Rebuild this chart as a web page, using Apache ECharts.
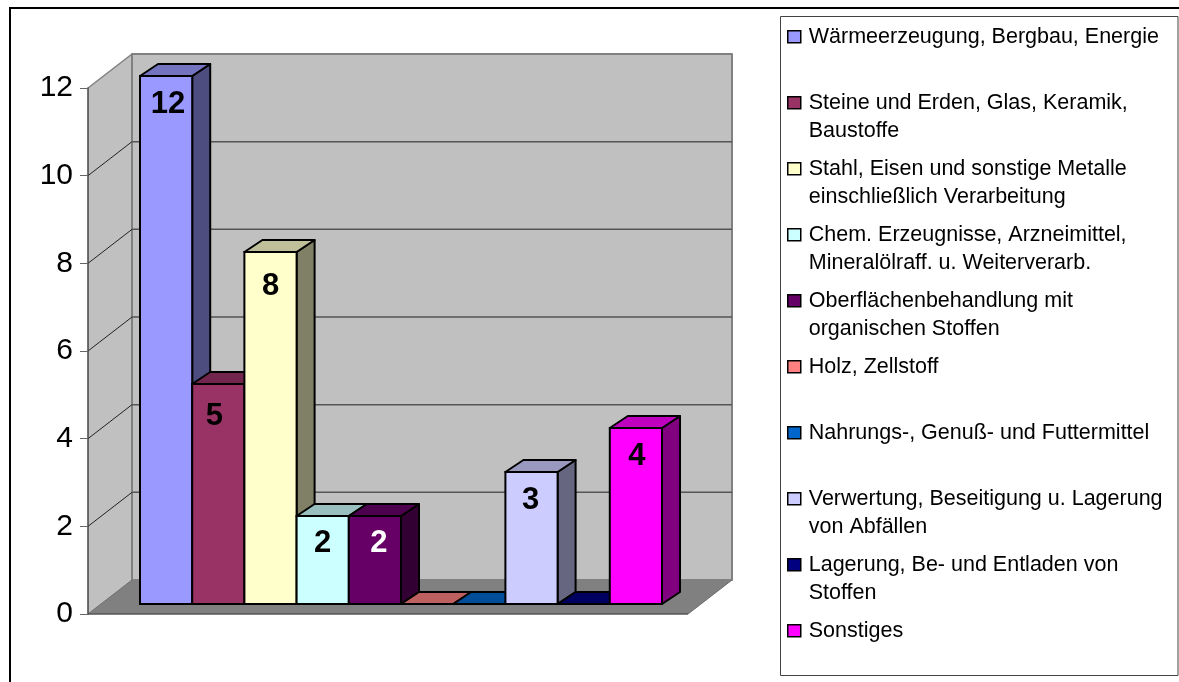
<!DOCTYPE html>
<html>
<head>
<meta charset="utf-8">
<style>html,body{margin:0;padding:0;background:#fff}#c{width:1179px;height:682px}</style>
<script src="https://cdn.jsdelivr.net/npm/echarts@6/dist/echarts.min.js"></script>
</head>
<body>
<div id="c"></div>
<script>
const categories = [
  'Wärmeerzeugung, Bergbau, Energie',
  'Steine und Erden, Glas, Keramik,\nBaustoffe',
  'Stahl, Eisen und sonstige Metalle\neinschließlich Verarbeitung',
  'Chem. Erzeugnisse, Arzneimittel,\nMineralölraff. u. Weiterverarb.',
  'Oberflächenbehandlung mit\norganischen Stoffen',
  'Holz, Zellstoff',
  'Nahrungs-, Genuß- und Futtermittel',
  'Verwertung, Beseitigung u. Lagerung\nvon Abfällen',
  'Lagerung, Be- und Entladen von\nStoffen',
  'Sonstiges'
];
const values = [12, 5, 8, 2, 2, 0, 0, 3, 0, 4];
const colors = ['#9999FF','#993366','#FFFFCC','#CCFFFF','#660066','#FF8080','#0066CC','#CCCCFF','#000080','#FF00FF'];
const labelColors = ['#000','#000','#000','#000','#fff','#000','#000','#000','#000','#000'];
const yTicks = [0, 2, 4, 6, 8, 10, 12];

const FONT = '"Liberation Sans", Arial, sans-serif';
const WALL_DX = 44, WALL_DY = -34;   // depth of the chart box
const BAR_DX = 18, BAR_DY = -12;     // depth of a bar
const LABEL_NUDGE = [[2,-1],[-4,3],[0,5],[0,-2],[4,-2],[0,0],[0,0],[-1,-1],[0,0],[1,-1]];

function shade(hex, k) {
  const n = parseInt(hex.slice(1), 16);
  const c = s => Math.round(((n >> s) & 255) * k);
  return 'rgb(' + c(16) + ',' + c(8) + ',' + c(0) + ')';
}
function poly(points, fill, stroke, lw) {
  return { type: 'polygon', shape: { points }, style: { fill, stroke: stroke || null, lineWidth: lw || 0, lineJoin: 'round' } };
}
function line(a, b, stroke, lw) {
  return { type: 'line', shape: { x1: a[0], y1: a[1], x2: b[0], y2: b[1] }, style: { stroke, lineWidth: lw } };
}

// Chart box: walls, floor and wall gridlines, one data item per axis tick
function renderWall(params, api) {
  const v = api.value(0);
  const a = api.coord([0, v]), b = api.coord([1, v]);
  const back = p => [p[0] + WALL_DX, p[1] + WALL_DY];
  const kids = [];
  if (v === 0) {
    const t = api.coord([0, yTicks[yTicks.length - 1]]);
    kids.push(poly([a, t, back(t), back(a)], '#C0C0C0'));
    const bt = api.coord([1, yTicks[yTicks.length - 1]]);
    kids.push(poly([back(t), back(bt), back(b), back(a)], '#C0C0C0', '#808080', 2));
    kids.push(poly([a, b, back(b), back(a)], '#808080'));
    kids.push(line(a, b, '#555', 1.5));
    kids.push(line(b, back(b), '#6a6a6a', 1));
    kids.push(line(a, back(a), '#6a6a6a', 1));
  } else if (v === yTicks[yTicks.length - 1]) {
    kids.push(line(a, back(a), '#808080', 1.5));
  } else {
    kids.push(line(a, back(a), '#222', 1));
    kids.push(line(back(a), back(b), '#555', 1.5));
  }
  return { type: 'group', children: kids };
}

// One 3D bar
function renderBar(params, api) {
  const i = api.value(0), v = api.value(1);
  const w = api.size([1, 0])[0];
  const base = api.coord([i, 0]), top = api.coord([i, v]);
  const x0 = base[0] - w / 2, x1 = base[0] + w / 2, yb = base[1], yt = top[1];
  const col = colors[i];
  const kids = [];
  if (v > 0) {
    kids.push(poly([[x1, yt], [x1 + BAR_DX, yt + BAR_DY], [x1 + BAR_DX, yb + BAR_DY], [x1, yb]], shade(col, 0.5), '#000', 2));
  }
  kids.push(poly([[x0, yt], [x0 + BAR_DX, yt + BAR_DY], [x1 + BAR_DX, yt + BAR_DY], [x1, yt]], shade(col, 0.75), '#000', 2));
  if (v > 0) {
    kids.push({ type: 'rect', shape: { x: x0, y: yt, width: x1 - x0, height: yb - yt }, style: { fill: col, stroke: '#000', lineWidth: 2 } });
    kids.push({ type: 'text', x: base[0] + LABEL_NUDGE[i][0], y: yt + 29.5 + LABEL_NUDGE[i][1], style: {
      text: String(v), fill: labelColors[i], font: 'bold 31px ' + FONT, align: 'center', verticalAlign: 'middle'
    } });
  }
  return { type: 'group', children: kids };
}

const markerIcon = 'path://M0 0L0 0M0 8L13 8L13 20L0 20ZM16 56L16 56';

const series = [{
  type: 'custom', name: 'walls', coordinateSystem: 'cartesian2d', xAxisIndex: 0, yAxisIndex: 0,
  z: 1, silent: true, renderItem: renderWall, data: yTicks.map(v => [v])
}].concat(categories.map((name, i) => ({
  type: 'custom', name, coordinateSystem: 'cartesian2d', xAxisIndex: 1, yAxisIndex: 1,
  z: 3 , silent: true, renderItem: renderBar, itemStyle: { color: colors[i] },
  encode: { x: 0, y: 1 },
  data: [[i, values[i]]]
})));

const chart = echarts.init(document.getElementById('c'), null, { renderer: 'canvas' });
chart.setOption({
  animation: false,
  backgroundColor: '#fff',
  grid: [
    { left: 88, top: 88, width: 600, height: 526 },
    { left: 140, top: 76, width: 522, height: 528 }
  ],
  xAxis: [
    { gridIndex: 0, type: 'value', min: 0, max: 1, z: 2,
      axisLabel: { show: false }, axisTick: { show: false }, splitLine: { show: false }, axisLine: { show: false } },
    { gridIndex: 1, type: 'category', data: categories, boundaryGap: true,
      axisLabel: { show: false }, axisTick: { show: false }, splitLine: { show: false }, axisLine: { show: false } }
  ],
  yAxis: [
    { gridIndex: 0, type: 'value', min: 0, max: 12, interval: 2, z: 2,
      axisLine: { show: true, lineStyle: { color: '#444', width: 1.5 } },
      axisTick: { show: true, length: 8, lineStyle: { color: '#666', width: 1 } },
      axisLabel: { fontSize: 30, color: '#000', fontFamily: FONT, margin: 15 },
      splitLine: { show: false } },
    { gridIndex: 1, type: 'value', min: 0, max: 12, interval: 2,
      axisLine: { show: false }, axisTick: { show: false }, axisLabel: { show: false }, splitLine: { show: false } }
  ],
  legend: {
    orient: 'vertical', left: 787, top: 22, height: 680, padding: 0,
    itemWidth: 16, itemHeight: 56, itemGap: 8.5,
    selectedMode: false,
    data: categories.map((name, i) => ({
      name, icon: markerIcon,
      itemStyle: { color: colors[i], borderColor: '#000', borderWidth: 1.5 }
    })),
    formatter: name => name.indexOf('\n') >= 0 ? name : name + '\n ',
    textStyle: { fontFamily: FONT, fontSize: 21.5, lineHeight: 28, color: '#000' }
  },
  graphic: [
    { type: 'rect', z: 10, shape: { x: 10, y: 8, width: 1300, height: 800 },
      style: { fill: 'none', stroke: '#000', lineWidth: 2 }, silent: true },
    { type: 'rect', z: 10, shape: { x: 780.5, y: 16.5, width: 397.5, height: 659 },
      style: { fill: 'none', stroke: '#444', lineWidth: 1 }, silent: true }
  ],
  series
});
</script>
</body>
</html>
